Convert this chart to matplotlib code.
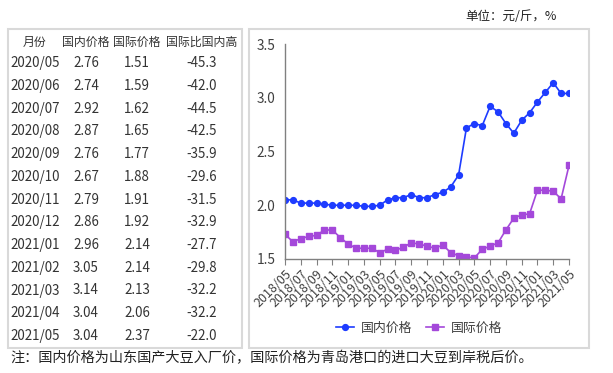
import matplotlib.pyplot as plt
from matplotlib.patches import Rectangle

plt.rcParams['font.family'] = ['Noto Sans CJK SC', 'DejaVu Sans']

# monthly series 2018/05 .. 2021/05
months = ['%d/%02d' % (2018 + (4 + i) // 12, (4 + i) % 12 + 1) for i in range(37)]
domestic = [2.05, 2.05, 2.02, 2.02, 2.02, 2.01, 2.00, 2.00, 2.00, 2.00, 1.99, 1.99,
            2.00, 2.05, 2.07, 2.07, 2.10, 2.07, 2.07, 2.10, 2.12, 2.17, 2.28, 2.72,
            2.76, 2.74, 2.92, 2.87, 2.76, 2.67, 2.79, 2.86, 2.96, 3.05, 3.14, 3.04, 3.04]
international = [1.73, 1.66, 1.69, 1.71, 1.72, 1.77, 1.77, 1.70, 1.64, 1.60, 1.60, 1.60,
                 1.56, 1.59, 1.58, 1.61, 1.65, 1.64, 1.62, 1.60, 1.63, 1.56, 1.53, 1.52,
                 1.51, 1.59, 1.62, 1.65, 1.77, 1.88, 1.91, 1.92, 2.14, 2.14, 2.13, 2.06, 2.37]
gap_pct = [-45.3, -42.0, -44.5, -42.5, -35.9, -29.6, -31.5, -32.9, -27.7, -29.8, -32.2, -32.2, -22.0]
headers = ['月份', '国内价格', '国际价格', '国际比国内高']

W, H = 613, 373
fig = plt.figure(figsize=(W / 100, H / 100), dpi=100)

def fx(px):
    return px / W

def fy(py):
    return 1 - py / H

# panel borders
for x0, x1 in [(8, 242), (249, 589)]:
    fig.patches.append(Rectangle((fx(x0), fy(348)), fx(x1 - x0), (348 - 29) / H,
                                 transform=fig.transFigure, fill=False,
                                 edgecolor='#d9d9d9', linewidth=1.5))

# table
col_x = [35, 86, 137, 202]
txt_col = '#333333'
for cx, h in zip(col_x, headers):
    fig.text(fx(cx), fy(42), h, ha='center', va='center', fontsize=8.6, color=txt_col)
n = len(gap_pct)
for i in range(n):
    y = fy(63.3 + i * 22.72)
    k = len(months) - n + i
    row = [months[k], '%.2f' % domestic[k], '%.2f' % international[k], '%.1f' % gap_pct[i]]
    for cx, v in zip(col_x, row):
        fig.text(fx(cx), y, v, ha='center', va='center', fontsize=9.6, color=txt_col)

# line chart
ax = fig.add_axes([fx(285), fy(259), fx(569 - 285), (259 - 44) / H])
x = list(range(len(months)))
blue = '#1E3CFF'
purple = '#A448DA'
ax.plot(x, domestic, color=blue, marker='o', markersize=4.2, linewidth=1.2, label='国内价格')
ax.plot(x, international, color=purple, marker='s', markersize=4.2, linewidth=1.2, label='国际价格')
ax.set_xlim(0, len(months) - 1)
ax.set_ylim(1.5, 3.5)
ax.set_yticks([1.5, 2.0, 2.5, 3.0, 3.5])
ax.set_yticklabels(['%.1f' % v for v in [1.5, 2.0, 2.5, 3.0, 3.5]])
ax.set_xticks(x[::2])
ax.set_xticklabels(months[::2], rotation=45, ha='right', rotation_mode='anchor')
ax.tick_params(axis='y', length=0, pad=7, labelsize=9.8, labelcolor='#404040')
ax.tick_params(axis='x', length=4, color='#808080', labelsize=9, labelcolor='#404040', pad=2)
for s in ['top', 'right']:
    ax.spines[s].set_visible(False)
for s in ['left', 'bottom']:
    ax.spines[s].set_color('#808080')
    ax.spines[s].set_linewidth(1.0)
ax.patch.set_alpha(0)

fig.legend(loc='center', bbox_to_anchor=(fx(419), fy(328)), ncol=2, frameon=False,
           fontsize=9.3, handlelength=1.4, columnspacing=1.1, handletextpad=0.5,
           labelcolor='#404040')

fig.text(fx(557), fy(17), '单位：元/斤，%', ha='right', va='center', fontsize=9, color='#222222')
fig.text(fx(10), fy(358), '注：国内价格为山东国产大豆入厂价，国际价格为青岛港口的进口大豆到岸税后价。',
         ha='left', va='center', fontsize=10.2, color='#222222')

fig.savefig('out.png', dpi=100)
